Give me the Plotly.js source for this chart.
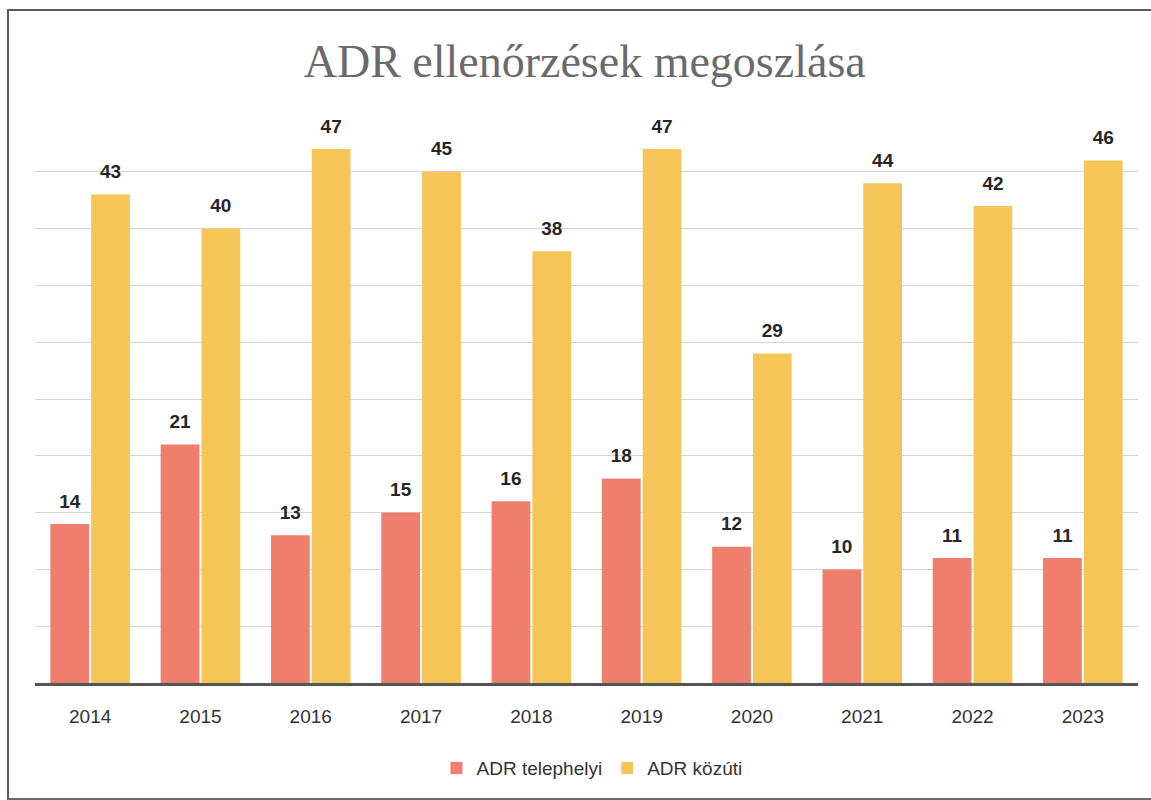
<!DOCTYPE html>
<html>
<head>
<meta charset="utf-8">
<script src="https://cdn.plot.ly/plotly-3.0.1.min.js"></script>
<style>
html,body{margin:0;padding:0;background:#fff;}
#wrap{position:relative;width:1151px;height:800px;}
#chart{width:1151px;height:800px;}
#frame{position:absolute;left:7px;top:9px;width:1160px;height:787px;border-left:2px solid #5a5a5a;border-top:2px solid #5a5a5a;border-bottom:2px solid #6a6a6a;pointer-events:none;}
</style>
</head>
<body>
<div id="wrap"><div id="chart"></div><div id="frame"></div></div>
<script>
const years = ["2014","2015","2016","2017","2018","2019","2020","2021","2022","2023"];
const telephelyi = [14, 21, 13, 15, 16, 18, 12, 10, 11, 11];
const kozuti = [43, 40, 47, 45, 38, 47, 29, 44, 42, 46];
const seriesNames = ["ADR telephelyi", "ADR közúti"];
const colors = ["#EF7E6C", "#F6C558"];

const labelFont = {family: "Liberation Sans, Arial, sans-serif", size: 19, color: "#262626", weight: "bold"};

const traces = [
  {type: "bar", name: seriesNames[0], x: years, y: telephelyi, marker: {color: colors[0]},
   offsetgroup: "a", hoverinfo: "x+y"},
  {type: "bar", name: seriesNames[1], x: years, y: kozuti, marker: {color: colors[1]},
   offsetgroup: "b", hoverinfo: "x+y"},
  {type: "scatter", mode: "markers+text", x: years, y: telephelyi, offsetgroup: "a",
   marker: {size: 17, opacity: 0}, text: telephelyi.map(String), textposition: "top center",
   textfont: labelFont, cliponaxis: false, showlegend: false, hoverinfo: "skip"},
  {type: "scatter", mode: "markers+text", x: years, y: kozuti, offsetgroup: "b",
   marker: {size: 17, opacity: 0}, text: kozuti.map(String), textposition: "top center",
   textfont: labelFont, cliponaxis: false, showlegend: false, hoverinfo: "skip"}
];

const layout = {
  width: 1151, height: 800,
  paper_bgcolor: "#ffffff", plot_bgcolor: "#ffffff",
  margin: {l: 35, r: 13, t: 115, b: 117},
  title: {text: "ADR ellenőrzések megoszlása", x: 0.508, xanchor: "center", y: 0.924, yanchor: "middle",
          font: {family: "Liberation Serif, Times New Roman, serif", size: 46, color: "#6a6a6a"}},
  barmode: "group", bargap: 0.26, bargroupgap: 0.05,
  scattermode: "group", scattergap: 0.26,
  xaxis: {type: "category", showgrid: false, zeroline: false, showline: true, linecolor: "#555555", linewidth: 3,
          ticks: "", ticklabelstandoff: 14,
          tickfont: {family: "Liberation Sans, Arial, sans-serif", size: 19, color: "#333333"}},
  yaxis: {range: [0, 50], dtick: 5, showticklabels: false, showgrid: true, gridcolor: "#d4d4d4", gridwidth: 1,
          zeroline: false, showline: false},
  showlegend: true,
  legend: {orientation: "h", x: 0.505, xanchor: "center", y: -0.15, yanchor: "middle",
           font: {family: "Liberation Sans, Arial, sans-serif", size: 19, color: "#333333"}}
};

Plotly.newPlot("chart", traces, layout, {displayModeBar: false, staticPlot: true});
</script>
</body>
</html>
